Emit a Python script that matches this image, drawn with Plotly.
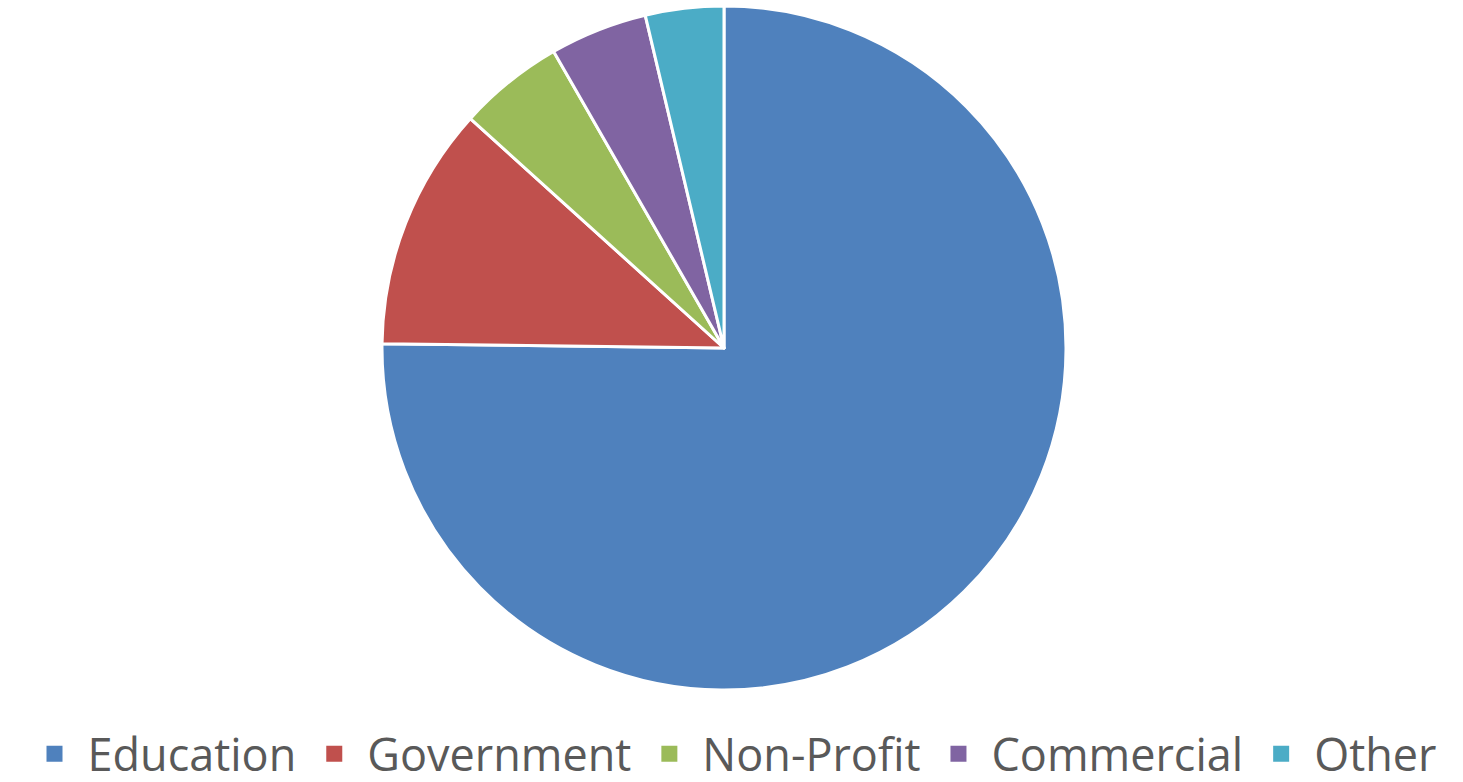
import plotly.graph_objects as go

# Share of users by sector
sectors = ["Education", "Government", "Non-Profit", "Commercial", "Other"]
shares = [75.2, 11.5, 5.0, 4.6, 3.7]
colors = ["#4F81BD", "#C0504D", "#9BBB59", "#8064A2", "#4BACC6"]

fig = go.Figure()
fig.add_trace(
    go.Pie(
        labels=sectors,
        values=shares,
        sort=False,
        direction="clockwise",
        rotation=0,
        textinfo="none",
        hoverinfo="label+percent",
        showlegend=False,
        marker=dict(colors=colors, line=dict(color="white", width=3)),
    )
)

# Legend entries drawn as square markers so the swatches can be sized
for name, col in zip(sectors, colors):
    fig.add_trace(
        go.Scatter(
            x=[None], y=[None], mode="markers", name=name,
            marker=dict(symbol="square", size=17, color=col),
            hoverinfo="skip",
        )
    )

fig.update_xaxes(visible=False)
fig.update_yaxes(visible=False)

fig.update_layout(
    width=1463,
    height=782,
    margin=dict(l=0, r=15, t=6, b=92, autoexpand=False),
    paper_bgcolor="white",
    plot_bgcolor="white",
    showlegend=True,
    legend=dict(
        orientation="h",
        xref="container",
        yref="container",
        x=0.5,
        xanchor="center",
        y=0.082,
        yanchor="top",
        font=dict(family="Open Sans, Liberation Sans", size=45, color="#595959"),
        itemwidth=56,
        itemsizing="trace",
        traceorder="normal",
    ),
)

fig.write_html("out.html")
